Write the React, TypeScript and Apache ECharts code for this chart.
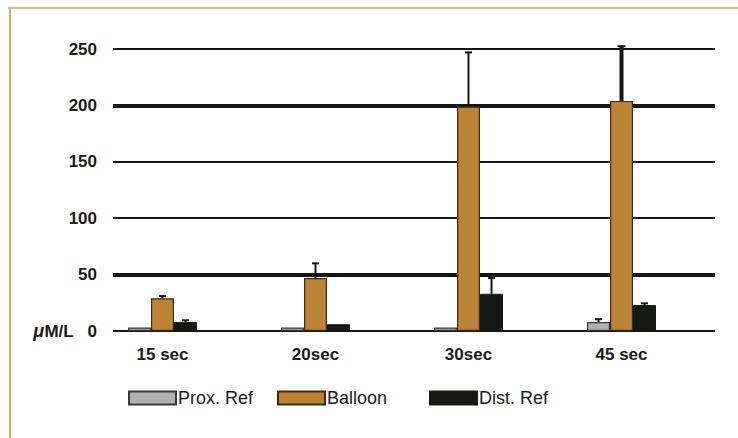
import React, { useEffect, useRef } from "react";
import * as echarts from "echarts";

// Concentration per sampling time, in µM/L
const categories = ["15 sec", "20sec", "30sec", "45 sec"];
const proxRef = [3, 3, 3, 8];
const balloon = [29, 47, 199, 204];
const distRef = [8, 6, 33, 23];

// Upper end of each error bar (null where no bar is drawn)
const proxErrTop: (number | null)[] = [null, null, null, 10.5];
const balloonErrTop: (number | null)[] = [31, 60, 247, 252.5];
const distErrTop: (number | null)[] = [9.5, null, 47, 24.5];

// Value axis
const yMin = 0;
const yMax = 250;
const yStep = 50;
const heavyTicks = [50, 200];

const FONT = "'Liberation Sans', Arial, Helvetica, sans-serif";
const INK = "#151515";
const BAR_W = 23;

const errData = (vals: number[], tops: (number | null)[]) =>
  vals
    .map((v, i) => (tops[i] == null ? null : [i, v, tops[i] as number]))
    .filter((d) => d !== null) as number[][];

const errSeries = (
  name: string,
  vals: number[],
  tops: (number | null)[],
  offset: number,
  widths: number[]
) => ({
  type: "custom",
  name: name + " error",
  xAxisIndex: 1,
  yAxisIndex: 2,
  z: 5,
  silent: true,
  data: errData(vals, tops),
  renderItem: (params: any, api: any) => {
    const cat = api.value(0);
    const base = api.coord([cat, api.value(1)]);
    const top = api.coord([cat, api.value(2)]);
    const x = base[0] + offset;
    const w = widths[cat] ?? 2;
    const capHalf = w > 2 ? 4 : 3.5;
    return {
      type: "group",
      children: [
        {
          type: "line",
          shape: { x1: x, y1: base[1], x2: x, y2: top[1] },
          style: { stroke: INK, lineWidth: w },
        },
        {
          type: "line",
          shape: { x1: x - capHalf, y1: top[1], x2: x + capHalf, y2: top[1] },
          style: { stroke: INK, lineWidth: 2 },
        },
      ],
    };
  },
});

export default function App() {
  const ref = useRef<HTMLDivElement>(null);

  useEffect(() => {
    if (!ref.current) return;
    const chart = echarts.init(ref.current, undefined, { renderer: "svg" });

    const tickCount = Math.round((yMax - yMin) / yStep) + 1;
    const heavyColors = Array.from({ length: tickCount }, (_, i) =>
      heavyTicks.includes(yMin + i * yStep) ? INK : "rgba(0,0,0,0)"
    );

    const legendBase = {
      icon: "rect",
      itemWidth: 47,
      itemHeight: 13,
      padding: 0,
      top: 389,
      selectedMode: false,
      textStyle: {
        fontFamily: FONT,
        fontSize: 18,
        color: "#1a1a1a",
        lineHeight: 18,
        padding: [0, 0, 0, -3],
      },
    };

    chart.setOption({
      animation: false,
      backgroundColor: "#ffffff",
      graphic: [
        {
          type: "line",
          shape: { x1: 8, y1: 8, x2: 738, y2: 8 },
          style: { stroke: "#d3a468", lineWidth: 1.5 },
        },
        {
          type: "line",
          shape: { x1: 10, y1: 8, x2: 10, y2: 438 },
          style: { stroke: "#d8a866", lineWidth: 2 },
        },
      ],
      grid: [
        // grid lines and value labels
        { left: 113, right: 23, top: 49, bottom: 107 },
        // bars
        { left: 86, right: 40, top: 49, bottom: 107 },
      ],
      xAxis: [
        { type: "value", gridIndex: 0, min: 0, max: 1, show: false },
        {
          type: "category",
          gridIndex: 1,
          data: categories,
          axisLine: { show: false },
          axisTick: { show: false },
          axisLabel: {
            margin: 15,
            fontFamily: FONT,
            fontSize: 17,
            fontWeight: "bold",
            color: "#1a1a1a",
          },
        },
      ],
      yAxis: [
        {
          type: "value",
          gridIndex: 0,
          min: yMin,
          max: yMax,
          interval: yStep,
          axisLine: { show: false },
          axisTick: { show: false },
          splitLine: { show: true, lineStyle: { color: INK, width: 2 } },
          axisLabel: {
            margin: 16,
            fontFamily: FONT,
            fontSize: 17,
            fontWeight: "bold",
            color: "#1a1a1a",
            formatter: (v: number) => (v === 0 ? "{mu|μ}{u|M/L   0}" : String(v)),
            rich: {
              mu: { fontFamily: FONT, fontSize: 18, fontWeight: "bold", fontStyle: "italic", color: "#1a1a1a" },
              u: { fontFamily: FONT, fontSize: 17, fontWeight: "bold", color: "#1a1a1a" },
            },
          },
        },
        {
          type: "value",
          gridIndex: 0,
          min: yMin,
          max: yMax,
          interval: yStep,
          axisLine: { show: false },
          axisTick: { show: false },
          axisLabel: { show: false },
          splitLine: { show: true, lineStyle: { color: heavyColors, width: 4 } },
        },
        { type: "value", gridIndex: 1, min: yMin, max: yMax, interval: yStep, show: false },
      ],
      legend: [
        { ...legendBase, left: 128, data: ["Prox. Ref"] },
        { ...legendBase, left: 277, data: ["Balloon"] },
        { ...legendBase, left: 429, data: ["Dist. Ref"] },
      ],
      series: [
        {
          type: "bar",
          name: "Prox. Ref",
          xAxisIndex: 1,
          yAxisIndex: 2,
          barWidth: BAR_W,
          barGap: "0%",
          data: proxRef,
          itemStyle: { color: "#b1b1b1", borderColor: "#3a3a3a", borderWidth: 1.2 },
        },
        {
          type: "bar",
          name: "Balloon",
          xAxisIndex: 1,
          yAxisIndex: 2,
          barWidth: BAR_W,
          barGap: "0%",
          data: balloon,
          itemStyle: { color: "#bb8335", borderColor: "#3b2a14", borderWidth: 1.2 },
        },
        {
          type: "bar",
          name: "Dist. Ref",
          xAxisIndex: 1,
          yAxisIndex: 2,
          barWidth: BAR_W,
          barGap: "0%",
          data: distRef,
          itemStyle: { color: "#161816", borderColor: "#161816", borderWidth: 1 },
        },
        errSeries("Prox. Ref", proxRef, proxErrTop, -BAR_W, [2, 2, 2, 2]),
        errSeries("Balloon", balloon, balloonErrTop, 0, [2, 2, 2, 4]),
        errSeries("Dist. Ref", distRef, distErrTop, BAR_W, [2, 2, 2, 2]),
      ],
    });

    return () => chart.dispose();
  }, []);

  return (
    <div
      ref={ref}
      style={{ position: "fixed", left: 0, top: 0, width: 738, height: 438, background: "#fff" }}
    />
  );
}
